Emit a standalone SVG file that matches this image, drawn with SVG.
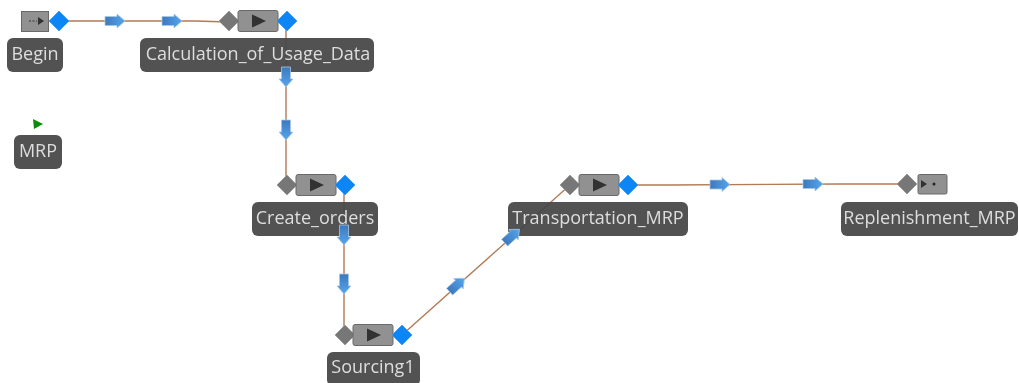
<svg xmlns="http://www.w3.org/2000/svg" width="1019" height="383" viewBox="0 0 1019 383">
<style>
.box{fill:#919191;stroke:#6a6a6a;stroke-width:1}
.lbl{fill:#484848;fill-opacity:.95}
.txt{fill:#dedede;font-family:"Open Sans","Noto Sans",sans-serif;font-size:18px;text-anchor:middle}
.in{fill:#777;stroke:#999;stroke-width:.8}
.out{fill:#0f86f5;stroke:#3a9cf5;stroke-width:.8}
.wire{fill:none;stroke:#b27a55;stroke-width:1.4}
.tri{fill:#303030}
</style>
<defs>
<filter id="soft" x="-2%" y="-2%" width="104%" height="104%"><feGaussianBlur stdDeviation="0.6"/></filter>
<linearGradient id="flowFill" x1="0" x2="1" y1="0" y2="0"><stop offset="0" stop-color="#3d78bd"/><stop offset="1" stop-color="#55a6ee"/></linearGradient>
<polygon id="dIn" class="in" points="-10,0 0,-10 10,0 0,10"/>
<polygon id="dOut" class="out" points="-10,0 0,-10 10,0 0,10"/>
<g id="flow"><path d="M-10,-4.500H2V-7L10,0L2,7V4.500H-10Z" fill="url(#flowFill)" stroke="#a9c6df" stroke-width=".8"/></g>
<g id="play"><rect class="box" x="-20" y="-10.500" width="40" height="21" rx="2"/><path class="tri" d="M-6,-6.500L8,0L-6,6.500Z"/></g>
</defs>
<g filter="url(#soft)">
<g id="connectors">
<path class="wire" d="M59,21H195L229,22"/>
<path class="wire" d="M286,21V185"/>
<path class="wire" d="M344,185V335"/>
<path class="wire" d="M402,335L570,185"/>
<path class="wire" d="M628,185L670,185L840,184H907"/>
</g>
<g id="node-begin">
<rect class="box" x="21.500" y="11.500" width="27" height="20"/>
<path class="tri" d="M38,17L44,21L38,25Z"/><path d="M29,21H37" stroke="#555" stroke-width="1.500" stroke-dasharray="2 1.500"/>
<use href="#dOut" x="59" y="21"/>
<rect class="lbl" x="7" y="38" width="56" height="34" rx="6"/>
<text class="txt" x="35" y="60">Begin</text>
</g>
<g id="node-calculation">
<use href="#dIn" x="229" y="21"/><use href="#play" x="258" y="21"/><use href="#dOut" x="287" y="21"/>
<rect class="lbl" x="140" y="38" width="234" height="34" rx="6"/>
<text class="txt" x="258" y="60">Calculation_of_Usage_Data</text>
</g>
<g id="node-mrp">
<path d="M33,119L43,124L34,129Z" fill="#0a8a0a"/>
<rect class="lbl" x="14" y="135" width="48" height="34" rx="6"/>
<text class="txt" x="38" y="157">MRP</text>
</g>
<g id="node-create-orders">
<use href="#dIn" x="287" y="185"/><use href="#play" x="316" y="185"/><use href="#dOut" x="345" y="185"/>
<rect class="lbl" x="252" y="202" width="126" height="34" rx="6"/>
<text class="txt" x="315" y="224">Create_orders</text>
</g>
<g id="node-sourcing">
<use href="#dIn" x="345" y="335"/><use href="#play" x="373" y="335"/><use href="#dOut" x="402" y="335"/>
<rect class="lbl" x="327" y="352" width="93" height="34" rx="6"/>
<text class="txt" x="373" y="373">Sourcing1</text>
</g>
<g id="node-transportation">
<use href="#dIn" x="570" y="185"/><use href="#play" x="599" y="185"/><use href="#dOut" x="628" y="185"/>
<rect class="lbl" x="508" y="202" width="180" height="34" rx="6"/>
<text class="txt" x="598" y="224">Transportation_MRP</text>
</g>
<g id="node-replenishment">
<use href="#dIn" x="907" y="184"/>
<rect class="box" x="918" y="174.500" width="29" height="19.500" rx="1.500"/>
<path class="tri" d="M921,180L927,184L921,188Z"/><circle cx="934" cy="184" r="1.500" fill="#222"/>
<rect class="lbl" x="841" y="202" width="177" height="34" rx="6"/>
<text class="txt" x="929.500" y="224">Replenishment_MRP</text>
</g>
<g id="flow-markers">
<use href="#flow" x="115" y="21"/>
<use href="#flow" x="172" y="21"/>
<use href="#flow" transform="translate(286,77) rotate(90)"/>
<use href="#flow" transform="translate(286,130) rotate(90)"/>
<use href="#flow" transform="translate(344,235) rotate(90)"/>
<use href="#flow" transform="translate(344,284) rotate(90)"/>
<use href="#flow" transform="translate(457,285) rotate(-42)"/>
<use href="#flow" transform="translate(512,236) rotate(-42)"/>
<use href="#flow" x="720" y="184.500"/>
<use href="#flow" x="813" y="184"/>
</g>
</g>
</svg>
